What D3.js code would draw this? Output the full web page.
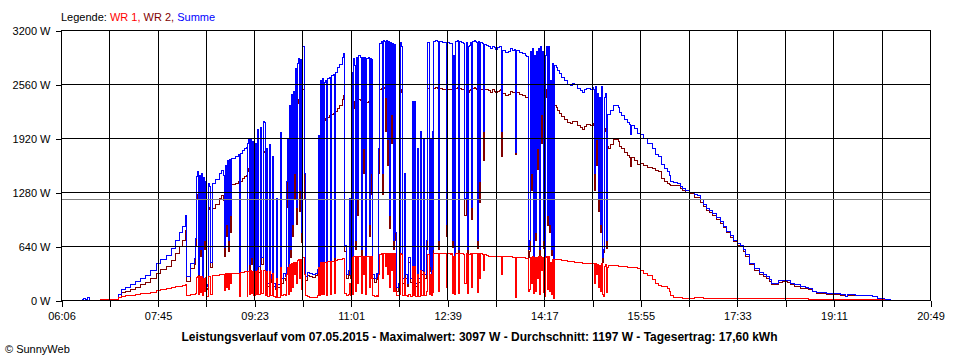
<!DOCTYPE html>
<html>
<head>
<meta charset="utf-8">
<script src="https://cdn.jsdelivr.net/npm/d3@7"></script>
<style>
  body { margin: 0; background: #fff; }
  svg { display: block; }
  text { font-family: "Liberation Sans", Arial, sans-serif; fill: #000; }
</style>
</head>
<body>
<svg id="chart" width="960" height="360"></svg>
<script>
// ---- data (minutes since midnight, power in W) ----
const timeMin = [
  387,389,391,393,395,396,406,411,416,421,423,
  424,427,432,437,442,447,452,457,463,467,473,478,482,486,489,493,494,498,502,503,
  504,505,506,507,508,509,510,511,512,513,514,515,516,517,518,520,523,527,529,531,532,533,534,535,536,537,538,539,543,546,547,548,550,552,554,555,556,557,558,559,560,561,562,564,565,566,567,569,570,572,573,
  574,575,576,578,579,580,581,582,584,585,586,589,590,592,594,595,596,597,598,599,600,601,602,603,604,605,606,607,608,609,610,611,612,613,614,616,619,622,625,627,628,629,630,631,632,633,634,635,636,637,639,640,641,643,644,645,647,649,652,653,654,656,658,659,660,
  661,662,663,664,665,666,667,668,670,671,672,673,674,675,676,678,679,680,681,682,683,685,687,688,689,690,692,693,694,
  695,696,697,698,699,700,701,702,703,704,705,706,707,709,710,711,712,713,715,716,718,719,721,723,724,725,726,728,729,731,732,734,735,737,738,739,740,741,742,743,744,745,747,749,750,751,754,757,758,759,760,761,762,763,764,765,766,767,768,769,770,771,772,773,774,775,776,778,779,780,781,782,783,784,785,786,787,788,789,790,791,792,793,794,795,796,797,798,800,802,804,806,808,810,812,
  813,814,815,818,821,823,825,827,828,829,832,835,838,839,841,842,843,844,845,846,847,848,849,850,851,852,853,854,855,856,857,858,859,860,861,862,863,864,865,866,867,
  869,871,873,875,878,881,884,886,888,891,894,896,898,900,904,906,
  907,908,909,910,911,912,913,914,915,916,917,918,919,920,921,922,
  924,927,930,932,934,936,939,942,944,945,946,949,952,955,958,962,967,970,973,976,979,982,984,985,988,992,995,998,1001,1005,
  1010,1013,1016,1019,1022,1025,1028,1032,1036,1039,1042,1046,1049,1053,1056,1059,1062,1066,1071,1076,1080,1083,1086,1088,1092,1095,1099,1104,1107,1111,1117,1122,1126,1130,1134,1139,1144,1151,1158,1163,1165,1173,1183,1191,1196,1203,1209
];

const wr1 = [
  0,0,0,0,0,null,3,3,3,3,3,
  25,40,50,58,66,74,82,92,110,122,135,145,155,163,170,180,55,60,70,80,
  270,275,60,280,90,280,50,250,100,270,40,45,280,280,70,290,295,300,300,300,110,310,150,310,120,315,200,315,318,320,40,330,330,335,335,40,340,340,70,345,80,340,50,340,60,345,70,350,80,355,355,
  50,340,45,340,50,50,320,40,30,250,30,380,50,60,50,300,380,60,420,100,430,150,440,300,450,200,470,480,250,480,120,500,500,300,50,40,30,30,35,50,380,50,450,60,450,60,450,450,50,455,455,60,460,460,80,470,475,480,490,495,80,50,60,200,50,
  500,60,510,510,100,520,200,520,520,80,520,300,520,60,520,520,150,520,250,520,50,40,50,40,300,540,550,250,550,
  550,400,550,300,550,150,550,350,550,100,550,100,50,50,60,550,540,50,250,50,40,60,40,400,50,400,40,300,40,350,50,330,50,100,540,540,60,300,50,350,90,550,555,550,100,550,550,550,150,550,
  550,550,545,550,80,520,60,550,550,550,80,550,550,550,550,545,200,550,80,540,540,550,150,550,550,555,550,550,90,550,250,550,550,545,350,540,540,530,520,520,520,515,515,515,515,
  515,300,510,510,510,510,505,505,30,505,500,500,495,495,100,120,500,200,510,80,500,100,505,250,510,70,515,350,505,90,40,500,510,120,510,100,450,70,480,20,480,
  480,478,475,470,465,460,455,455,450,445,440,435,435,432,430,430,
  430,200,430,300,420,150,410,100,430,60,40,400,420,90,380,410,
  408,405,403,400,398,396,393,390,388,380,385,380,370,345,320,290,240,190,175,165,155,140,100,50,35,27,25,22,20,20,
  30,32,30,20,20,20,20,20,20,20,20,20,20,20,20,20,20,20,20,20,20,20,20,18,18,18,18,18,18,18,18,18,10,10,10,10,8,8,8,5,5,5,5,4,2,0,0
];

const wr2 = [
  10,20,5,25,5,null,7,7,7,7,7,
  35,90,100,122,149,181,213,253,320,358,395,465,555,637,700,820,225,370,420,650,
  1190,1245,240,1200,510,1220,200,1200,600,1130,120,135,1100,1070,380,1090,1135,1200,1240,1180,510,1290,750,1340,580,1345,800,1365,1382,1400,110,1410,1440,1465,1475,140,1520,1560,350,1565,420,1540,180,1510,240,1675,330,1700,420,1755,1745,
  200,1460,155,1500,210,250,1380,160,120,950,150,1600,200,260,230,1100,1520,240,1890,500,2000,750,2030,1200,2295,900,2330,2380,1050,2370,680,2500,2500,1200,230,290,280,270,285,310,1570,250,2150,340,2170,290,2130,2150,250,2165,2185,340,2200,2210,420,2230,2275,2310,2380,2425,570,250,290,1000,250,
  2200,340,2350,2270,600,2360,1000,2380,2360,520,2350,1500,2360,340,2340,2350,750,2340,1250,2330,250,210,270,240,1500,2500,2510,1250,2520,
  2510,2000,2520,1600,2510,850,2500,1850,2490,600,2480,700,100,150,190,2500,2460,200,1250,250,160,440,210,1950,250,1950,160,1500,210,1650,300,1570,250,600,2510,2510,340,1600,250,1650,510,2510,2515,2510,600,2510,2500,2500,750,2500,
  2500,2490,2495,2490,620,2380,440,2510,2510,2520,520,2510,2510,2500,2500,2495,1000,2500,520,2460,2480,2500,950,2510,2510,2515,2510,2500,610,2510,1150,2500,2500,2495,1650,2490,2490,2490,2480,2460,2490,2475,2455,2475,2485,
  2495,1700,2450,2420,2440,2470,2455,2465,1720,2455,2430,2420,2405,2395,500,580,2450,1300,2470,420,2400,700,2445,1550,2470,530,2485,1850,2445,610,360,2400,2490,880,2500,800,2150,530,2320,50,2300,
  2280,2242,2205,2170,2135,2100,2090,2115,2110,2065,2040,2025,2055,2078,2070,2090,
  2070,1300,2100,1600,2030,1050,1990,800,2100,440,560,2000,2030,610,1820,1790,
  1842,1905,1897,1880,1822,1794,1747,1710,1687,1580,1685,1655,1605,1615,1600,1570,1560,1530,1525,1445,1405,1380,1370,1360,1360,1356,1325,1301,1280,1260,
  1220,1212,1160,1110,1066,1035,1007,960,908,855,795,740,691,650,630,580,520,415,355,305,280,256,220,182,182,212,219,212,182,162,140,132,130,95,81,75,71,67,59,42,55,53,50,38,18,10,8
];

const summe = [
  10,20,5,25,5,null,10,10,10,10,10,
  60,130,150,180,215,255,295,345,430,480,530,610,710,800,870,1000,280,430,490,730,
  1460,1520,300,1480,600,1500,250,1450,700,1400,160,180,1380,1350,450,1380,1430,1500,1540,1480,620,1600,900,1650,700,1660,1000,1680,1700,1720,150,1740,1770,1800,1810,180,1860,1900,420,1910,500,1880,230,1850,300,2020,400,2050,500,2110,2100,
  250,1800,200,1840,260,300,1700,200,150,1200,180,1980,250,320,280,1400,1900,300,2310,600,2430,900,2470,1500,2745,1100,2800,2860,1300,2850,800,3000,3000,1500,280,330,310,300,320,360,1950,300,2600,400,2620,350,2580,2600,300,2620,2640,400,2660,2670,500,2700,2750,2790,2870,2920,650,300,350,1200,300,
  2700,400,2860,2780,700,2880,1200,2900,2880,600,2870,1800,2880,400,2860,2870,900,2860,1500,2850,300,250,320,280,1800,3040,3060,1500,3070,
  3060,2400,3070,1900,3060,1000,3050,2200,3040,700,3030,800,150,200,250,3050,3000,250,1500,300,200,500,250,2350,300,2350,200,1800,250,2000,350,1900,300,700,3050,3050,400,1900,300,2000,600,3060,3070,3060,700,3060,3050,3050,900,3050,
  3050,3040,3040,3040,700,2900,500,3060,3060,3070,600,3060,3060,3050,3050,3040,1200,3050,600,3000,3020,3050,1100,3060,3060,3070,3060,3050,700,3060,1400,3050,3050,3040,2000,3030,3030,3020,3000,2980,3010,2990,2970,2990,3000,
  3010,2000,2960,2930,2950,2980,2960,2970,1750,2960,2930,2920,2900,2890,600,700,2950,1500,2980,500,2900,800,2950,1800,2980,600,3000,2200,2950,700,400,2900,3000,1000,3010,900,2600,600,2800,70,2780,
  2760,2720,2680,2640,2600,2560,2545,2570,2560,2510,2480,2460,2490,2510,2500,2520,
  2500,1500,2530,1900,2450,1200,2400,900,2530,500,600,2400,2450,700,2200,2200,
  2250,2310,2300,2280,2220,2190,2140,2100,2075,1960,2070,2035,1975,1960,1920,1860,1800,1720,1700,1610,1560,1520,1470,1410,1395,1383,1350,1323,1300,1280,
  1250,1244,1190,1130,1086,1055,1027,980,928,875,815,760,711,670,650,600,540,435,375,325,300,276,240,200,200,230,237,230,200,180,158,150,140,105,91,85,79,75,67,47,60,58,55,42,20,10,8
];

const yTicks = [0, 640, 1280, 1920, 2560, 3200];
const xTickLabels = ["06:06","07:45","09:23","11:01","12:39","14:17","15:55","17:33","19:11","20:49"];
const timeRange = [366, 1249];         // 06:06 .. 20:49
const gridDivisions = 18;
const averageW = 1197;
const legendLabels = ["Legende: ", "WR 1, ", "WR 2, ", "Summe"];
const legendColors = ["#000000", "#ff0000", "#800000", "#0000ff"];
const titleText = "Leistungsverlauf vom 07.05.2015 - Maximalwert: 3097 W - Durchschnitt: 1197 W - Tagesertrag: 17,60 kWh";
const copyrightText = "\u00A9 SunnyWeb";

if (!(timeMin.length === wr1.length && wr1.length === wr2.length && wr2.length === summe.length)) {
  console.error("length mismatch", timeMin.length, wr1.length, wr2.length, summe.length);
}

// ---- drawing ----
const svg = d3.select("#chart");
const x = d3.scaleLinear().domain(timeRange).range([61, 930]);
const y = d3.scaleLinear().domain([0, 3200]).range([300, 30]);

const idx = d3.range(timeMin.length);
function lineFor(vals) {
  return d3.line()
    .defined(i => vals[i] != null)
    .x(i => x(timeMin[i]))
    .y(i => y(vals[i]))
    .curve(d3.curveStepAfter)(idx);
}

const plot = svg.append("g");
[[wr2, "#800000"], [summe, "#0000ff"], [wr1, "#ff0000"]].forEach(([vals, col]) => {
  plot.append("path")
    .attr("d", lineFor(vals))
    .attr("fill", "none")
    .attr("stroke", col)
    .attr("stroke-width", 1)
    .attr("shape-rendering", "crispEdges");
});

// grid (drawn over the data like the original)
const gridTimes = d3.range(gridDivisions + 1).map(k => timeRange[0] + k * (timeRange[1] - timeRange[0]) / gridDivisions);
const grid = svg.append("g").attr("shape-rendering", "crispEdges");
grid.selectAll("line.v").data(gridTimes).join("line")
  .attr("x1", d => Math.round(x(d)) + 0.5).attr("x2", d => Math.round(x(d)) + 0.5)
  .attr("y1", y(3200)).attr("y2", y(0))
  .attr("stroke", "#000");
grid.selectAll("line.h").data(yTicks).join("line")
  .attr("x1", x(timeRange[0])).attr("x2", x(timeRange[1]) + 1)
  .attr("y1", d => Math.round(y(d)) + 0.5).attr("y2", d => Math.round(y(d)) + 0.5)
  .attr("stroke", "#000");
grid.append("line")
  .attr("x1", x(timeRange[0]) + 1).attr("x2", x(timeRange[1]))
  .attr("y1", Math.round(y(averageW)) + 0.5).attr("y2", Math.round(y(averageW)) + 0.5)
  .attr("stroke", "#808080");

// axes
const yAxis = svg.append("g")
  .attr("transform", `translate(${x(timeRange[0]) + 0.5},0.5)`)
  .call(d3.axisLeft(y).tickValues(yTicks).tickSize(6).tickPadding(5).tickFormat(d => d + " W"));
yAxis.select(".domain").remove();
yAxis.selectAll("line").attr("stroke", "#000").attr("shape-rendering", "crispEdges");
yAxis.selectAll("text").attr("font-size", 11).attr("font-family", '"Liberation Sans", Arial, sans-serif').attr("fill", "#000");

const xAxis = svg.append("g")
  .attr("transform", `translate(0.5,${y(0) + 0.5})`)
  .call(d3.axisBottom(x).tickValues(gridTimes).tickSize(6).tickPadding(6)
    .tickFormat((d, i) => i % 2 === 0 ? xTickLabels[i / 2] : ""));
xAxis.select(".domain").remove();
xAxis.selectAll("line").attr("stroke", "#000").attr("shape-rendering", "crispEdges");
xAxis.selectAll("text").attr("font-size", 11).attr("font-family", '"Liberation Sans", Arial, sans-serif').attr("fill", "#000");

// legend
const leg = svg.append("text").attr("x", 61).attr("y", 21).attr("font-size", 11).attr("xml:space", "preserve");
legendLabels.forEach((t, i) => leg.append("tspan").text(t).attr("fill", legendColors[i]).style("white-space", "pre"));

// title
svg.append("text")
  .attr("x", 479.5).attr("y", 341)
  .attr("text-anchor", "middle")
  .attr("font-size", 12).attr("font-weight", "bold")
  .text(titleText);

// copyright
svg.append("text")
  .attr("x", 5).attr("y", 353)
  .attr("font-size", 11)
  .text(copyrightText);
</script>
</body>
</html>
